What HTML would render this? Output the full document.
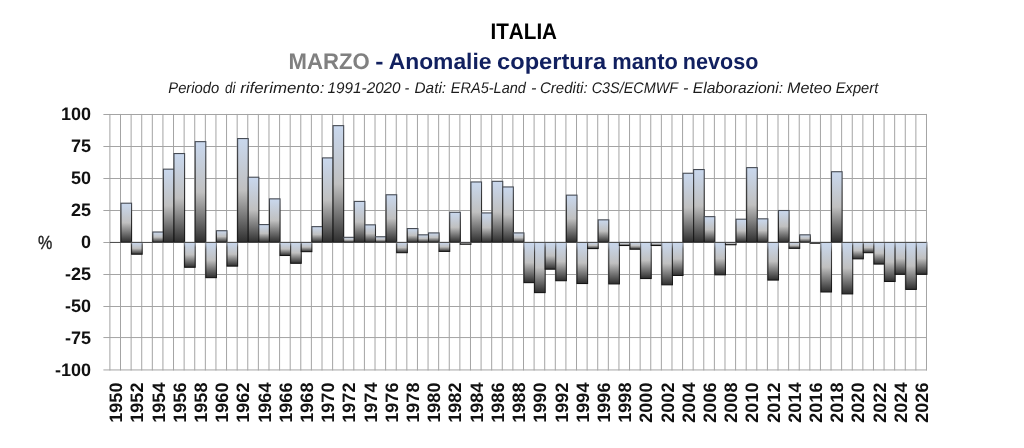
<!DOCTYPE html>
<html><head><meta charset="utf-8"><title>ITALIA - MARZO - Anomalie copertura manto nevoso</title>
<style>
html,body{margin:0;padding:0;background:#fff;}
body{width:1024px;height:448px;overflow:hidden;font-family:"Liberation Sans",sans-serif;}
svg{display:block;will-change:transform;}
text{font-family:"Liberation Sans",sans-serif;font-kerning:none;text-rendering:geometricPrecision;}
</style></head><body>
<svg width="1024" height="448" viewBox="0 0 1024 448">
<defs>
<linearGradient id="g" x1="0" y1="0" x2="0" y2="1">
<stop offset="0" stop-color="#c9d8ee"/><stop offset="0.5" stop-color="#c0c0c0"/><stop offset="1" stop-color="#2e2e2e"/>
</linearGradient>
<linearGradient id="sp" x1="0" y1="0" x2="0" y2="1">
<stop offset="0" stop-color="#464b54"/><stop offset="0.3" stop-color="#333"/><stop offset="1" stop-color="#141414"/>
</linearGradient>
<linearGradient id="sn" x1="0" y1="0" x2="0" y2="1">
<stop offset="0" stop-color="#949ba8"/><stop offset="0.2" stop-color="#444"/><stop offset="1" stop-color="#141414"/>
</linearGradient>
</defs>
<rect width="1024" height="448" fill="#fff"/>

<g stroke="#a4a4a4" stroke-width="1" fill="none">
<line x1="103.4" y1="114.50" x2="926.99" y2="114.50"/>
<line x1="103.4" y1="146.50" x2="926.99" y2="146.50"/>
<line x1="103.4" y1="178.50" x2="926.99" y2="178.50"/>
<line x1="103.4" y1="210.50" x2="926.99" y2="210.50"/>
<line x1="103.4" y1="242.50" x2="926.99" y2="242.50"/>
<line x1="103.4" y1="274.50" x2="926.99" y2="274.50"/>
<line x1="103.4" y1="306.50" x2="926.99" y2="306.50"/>
<line x1="103.4" y1="337.55" x2="926.99" y2="337.55"/>
<line x1="103.4" y1="369.95" x2="926.99" y2="369.95"/>
<line x1="109.90" y1="113.95" x2="109.90" y2="370.45"/>
<line x1="120.51" y1="113.95" x2="120.51" y2="370.45"/>
<line x1="131.11" y1="113.95" x2="131.11" y2="370.45"/>
<line x1="141.72" y1="113.95" x2="141.72" y2="370.45"/>
<line x1="152.32" y1="113.95" x2="152.32" y2="370.45"/>
<line x1="162.93" y1="113.95" x2="162.93" y2="370.45"/>
<line x1="173.53" y1="113.95" x2="173.53" y2="370.45"/>
<line x1="184.13" y1="113.95" x2="184.13" y2="370.45"/>
<line x1="194.74" y1="113.95" x2="194.74" y2="370.45"/>
<line x1="205.35" y1="113.95" x2="205.35" y2="370.45"/>
<line x1="215.95" y1="113.95" x2="215.95" y2="370.45"/>
<line x1="226.56" y1="113.95" x2="226.56" y2="370.45"/>
<line x1="237.16" y1="113.95" x2="237.16" y2="370.45"/>
<line x1="247.77" y1="113.95" x2="247.77" y2="370.45"/>
<line x1="258.37" y1="113.95" x2="258.37" y2="370.45"/>
<line x1="268.98" y1="113.95" x2="268.98" y2="370.45"/>
<line x1="279.58" y1="113.95" x2="279.58" y2="370.45"/>
<line x1="290.19" y1="113.95" x2="290.19" y2="370.45"/>
<line x1="300.79" y1="113.95" x2="300.79" y2="370.45"/>
<line x1="311.39" y1="113.95" x2="311.39" y2="370.45"/>
<line x1="322.00" y1="113.95" x2="322.00" y2="370.45"/>
<line x1="332.61" y1="113.95" x2="332.61" y2="370.45"/>
<line x1="343.21" y1="113.95" x2="343.21" y2="370.45"/>
<line x1="353.82" y1="113.95" x2="353.82" y2="370.45"/>
<line x1="364.42" y1="113.95" x2="364.42" y2="370.45"/>
<line x1="375.02" y1="113.95" x2="375.02" y2="370.45"/>
<line x1="385.63" y1="113.95" x2="385.63" y2="370.45"/>
<line x1="396.24" y1="113.95" x2="396.24" y2="370.45"/>
<line x1="406.84" y1="113.95" x2="406.84" y2="370.45"/>
<line x1="417.45" y1="113.95" x2="417.45" y2="370.45"/>
<line x1="428.05" y1="113.95" x2="428.05" y2="370.45"/>
<line x1="438.65" y1="113.95" x2="438.65" y2="370.45"/>
<line x1="449.26" y1="113.95" x2="449.26" y2="370.45"/>
<line x1="459.87" y1="113.95" x2="459.87" y2="370.45"/>
<line x1="470.47" y1="113.95" x2="470.47" y2="370.45"/>
<line x1="481.08" y1="113.95" x2="481.08" y2="370.45"/>
<line x1="491.68" y1="113.95" x2="491.68" y2="370.45"/>
<line x1="502.28" y1="113.95" x2="502.28" y2="370.45"/>
<line x1="512.89" y1="113.95" x2="512.89" y2="370.45"/>
<line x1="523.50" y1="113.95" x2="523.50" y2="370.45"/>
<line x1="534.10" y1="113.95" x2="534.10" y2="370.45"/>
<line x1="544.71" y1="113.95" x2="544.71" y2="370.45"/>
<line x1="555.31" y1="113.95" x2="555.31" y2="370.45"/>
<line x1="565.92" y1="113.95" x2="565.92" y2="370.45"/>
<line x1="576.52" y1="113.95" x2="576.52" y2="370.45"/>
<line x1="587.12" y1="113.95" x2="587.12" y2="370.45"/>
<line x1="597.73" y1="113.95" x2="597.73" y2="370.45"/>
<line x1="608.34" y1="113.95" x2="608.34" y2="370.45"/>
<line x1="618.94" y1="113.95" x2="618.94" y2="370.45"/>
<line x1="629.54" y1="113.95" x2="629.54" y2="370.45"/>
<line x1="640.15" y1="113.95" x2="640.15" y2="370.45"/>
<line x1="650.75" y1="113.95" x2="650.75" y2="370.45"/>
<line x1="661.36" y1="113.95" x2="661.36" y2="370.45"/>
<line x1="671.97" y1="113.95" x2="671.97" y2="370.45"/>
<line x1="682.57" y1="113.95" x2="682.57" y2="370.45"/>
<line x1="693.17" y1="113.95" x2="693.17" y2="370.45"/>
<line x1="703.78" y1="113.95" x2="703.78" y2="370.45"/>
<line x1="714.38" y1="113.95" x2="714.38" y2="370.45"/>
<line x1="724.99" y1="113.95" x2="724.99" y2="370.45"/>
<line x1="735.60" y1="113.95" x2="735.60" y2="370.45"/>
<line x1="746.20" y1="113.95" x2="746.20" y2="370.45"/>
<line x1="756.80" y1="113.95" x2="756.80" y2="370.45"/>
<line x1="767.41" y1="113.95" x2="767.41" y2="370.45"/>
<line x1="778.01" y1="113.95" x2="778.01" y2="370.45"/>
<line x1="788.62" y1="113.95" x2="788.62" y2="370.45"/>
<line x1="799.23" y1="113.95" x2="799.23" y2="370.45"/>
<line x1="809.83" y1="113.95" x2="809.83" y2="370.45"/>
<line x1="820.44" y1="113.95" x2="820.44" y2="370.45"/>
<line x1="831.04" y1="113.95" x2="831.04" y2="370.45"/>
<line x1="841.64" y1="113.95" x2="841.64" y2="370.45"/>
<line x1="852.25" y1="113.95" x2="852.25" y2="370.45"/>
<line x1="862.86" y1="113.95" x2="862.86" y2="370.45"/>
<line x1="873.46" y1="113.95" x2="873.46" y2="370.45"/>
<line x1="884.07" y1="113.95" x2="884.07" y2="370.45"/>
<line x1="894.67" y1="113.95" x2="894.67" y2="370.45"/>
<line x1="905.27" y1="113.95" x2="905.27" y2="370.45"/>
<line x1="915.88" y1="113.95" x2="915.88" y2="370.45"/>
<line x1="926.49" y1="113.95" x2="926.49" y2="370.45"/>
</g>
<g fill="url(#g)" stroke-width="1.1">
<rect x="120.96" y="203.20" width="10.61" height="39.10" stroke="url(#sp)"/>
<rect x="131.56" y="242.40" width="10.61" height="11.80" stroke="url(#sn)"/>
<rect x="152.77" y="232.00" width="10.61" height="10.30" stroke="url(#sp)"/>
<rect x="163.38" y="169.16" width="10.61" height="73.14" stroke="url(#sp)"/>
<rect x="173.98" y="153.54" width="10.61" height="88.76" stroke="url(#sp)"/>
<rect x="184.58" y="242.40" width="10.61" height="24.86" stroke="url(#sn)"/>
<rect x="195.19" y="141.64" width="10.61" height="100.66" stroke="url(#sp)"/>
<rect x="205.80" y="242.40" width="10.61" height="35.23" stroke="url(#sn)"/>
<rect x="216.40" y="230.72" width="10.61" height="11.58" stroke="url(#sp)"/>
<rect x="227.00" y="242.40" width="10.61" height="23.71" stroke="url(#sn)"/>
<rect x="237.61" y="138.56" width="10.61" height="103.74" stroke="url(#sp)"/>
<rect x="248.22" y="177.22" width="10.61" height="65.08" stroke="url(#sp)"/>
<rect x="258.82" y="224.58" width="10.61" height="17.72" stroke="url(#sp)"/>
<rect x="269.43" y="198.85" width="10.61" height="43.45" stroke="url(#sp)"/>
<rect x="280.03" y="242.40" width="10.61" height="13.08" stroke="url(#sn)"/>
<rect x="290.63" y="242.40" width="10.61" height="20.89" stroke="url(#sn)"/>
<rect x="301.24" y="242.40" width="10.61" height="9.24" stroke="url(#sn)"/>
<rect x="311.84" y="226.63" width="10.61" height="15.67" stroke="url(#sp)"/>
<rect x="322.45" y="157.89" width="10.61" height="84.41" stroke="url(#sp)"/>
<rect x="333.06" y="125.64" width="10.61" height="116.66" stroke="url(#sp)"/>
<rect x="343.66" y="237.32" width="10.61" height="4.98" stroke="url(#sp)"/>
<rect x="354.27" y="201.41" width="10.61" height="40.89" stroke="url(#sp)"/>
<rect x="364.87" y="224.84" width="10.61" height="17.46" stroke="url(#sp)"/>
<rect x="375.47" y="236.74" width="10.61" height="5.56" stroke="url(#sp)"/>
<rect x="386.08" y="194.76" width="10.61" height="47.54" stroke="url(#sp)"/>
<rect x="396.69" y="242.40" width="10.61" height="10.27" stroke="url(#sn)"/>
<rect x="407.29" y="228.55" width="10.61" height="13.75" stroke="url(#sp)"/>
<rect x="417.90" y="234.82" width="10.61" height="7.48" stroke="url(#sp)"/>
<rect x="428.50" y="232.90" width="10.61" height="9.40" stroke="url(#sp)"/>
<rect x="439.10" y="242.40" width="10.61" height="8.99" stroke="url(#sn)"/>
<rect x="449.71" y="212.29" width="10.61" height="30.01" stroke="url(#sp)"/>
<rect x="460.31" y="242.40" width="10.61" height="1.82" stroke="url(#sn)"/>
<rect x="470.92" y="181.96" width="10.61" height="60.34" stroke="url(#sp)"/>
<rect x="481.53" y="212.93" width="10.61" height="29.37" stroke="url(#sp)"/>
<rect x="492.13" y="181.32" width="10.61" height="60.98" stroke="url(#sp)"/>
<rect x="502.73" y="186.95" width="10.61" height="55.35" stroke="url(#sp)"/>
<rect x="513.34" y="232.90" width="10.61" height="9.40" stroke="url(#sp)"/>
<rect x="523.95" y="242.40" width="10.61" height="40.22" stroke="url(#sn)"/>
<rect x="534.55" y="242.40" width="10.61" height="50.20" stroke="url(#sn)"/>
<rect x="545.16" y="242.40" width="10.61" height="26.78" stroke="url(#sn)"/>
<rect x="555.76" y="242.40" width="10.61" height="38.30" stroke="url(#sn)"/>
<rect x="566.37" y="195.14" width="10.61" height="47.16" stroke="url(#sp)"/>
<rect x="576.97" y="242.40" width="10.61" height="41.12" stroke="url(#sn)"/>
<rect x="587.58" y="242.40" width="10.61" height="6.17" stroke="url(#sn)"/>
<rect x="598.18" y="219.84" width="10.61" height="22.46" stroke="url(#sp)"/>
<rect x="608.79" y="242.40" width="10.61" height="41.50" stroke="url(#sn)"/>
<rect x="619.39" y="242.40" width="10.61" height="3.10" stroke="url(#sn)"/>
<rect x="630.00" y="242.40" width="10.61" height="6.81" stroke="url(#sn)"/>
<rect x="640.60" y="242.40" width="10.61" height="36.12" stroke="url(#sn)"/>
<rect x="651.21" y="242.40" width="10.61" height="3.10" stroke="url(#sn)"/>
<rect x="661.81" y="242.40" width="10.61" height="42.40" stroke="url(#sn)"/>
<rect x="672.42" y="242.40" width="10.61" height="33.05" stroke="url(#sn)"/>
<rect x="683.02" y="173.25" width="10.61" height="69.05" stroke="url(#sp)"/>
<rect x="693.62" y="169.54" width="10.61" height="72.76" stroke="url(#sp)"/>
<rect x="704.23" y="216.64" width="10.61" height="25.66" stroke="url(#sp)"/>
<rect x="714.84" y="242.40" width="10.61" height="32.41" stroke="url(#sn)"/>
<rect x="725.44" y="242.40" width="10.61" height="2.33" stroke="url(#sn)"/>
<rect x="736.05" y="219.20" width="10.61" height="23.10" stroke="url(#sp)"/>
<rect x="746.65" y="167.62" width="10.61" height="74.68" stroke="url(#sp)"/>
<rect x="757.25" y="218.82" width="10.61" height="23.48" stroke="url(#sp)"/>
<rect x="767.86" y="242.40" width="10.61" height="37.66" stroke="url(#sn)"/>
<rect x="778.47" y="210.50" width="10.61" height="31.80" stroke="url(#sp)"/>
<rect x="789.07" y="242.40" width="10.61" height="5.92" stroke="url(#sn)"/>
<rect x="799.68" y="234.82" width="10.61" height="7.48" stroke="url(#sp)"/>
<rect x="810.28" y="242.40" width="10.61" height="0.80" stroke="url(#sn)"/>
<rect x="820.89" y="242.40" width="10.61" height="49.56" stroke="url(#sn)"/>
<rect x="831.49" y="171.72" width="10.61" height="70.58" stroke="url(#sp)"/>
<rect x="842.10" y="242.40" width="10.61" height="51.48" stroke="url(#sn)"/>
<rect x="852.70" y="242.40" width="10.61" height="16.41" stroke="url(#sn)"/>
<rect x="863.31" y="242.40" width="10.61" height="10.27" stroke="url(#sn)"/>
<rect x="873.91" y="242.40" width="10.61" height="21.66" stroke="url(#sn)"/>
<rect x="884.52" y="242.40" width="10.61" height="39.07" stroke="url(#sn)"/>
<rect x="895.12" y="242.40" width="10.61" height="31.90" stroke="url(#sn)"/>
<rect x="905.73" y="242.40" width="10.61" height="47.00" stroke="url(#sn)"/>
<rect x="916.33" y="242.40" width="10.61" height="31.90" stroke="url(#sn)"/>
</g>
<line x1="109.90" y1="242.43" x2="926.49" y2="242.43" stroke="#4a4a4a" stroke-width="1"/>
<g font-weight="bold" font-size="18" fill="#111" text-anchor="end">
<text x="91.1" y="120.40">100</text>
<text x="91.1" y="152.34">75</text>
<text x="91.1" y="184.27">50</text>
<text x="91.1" y="216.21">25</text>
<text x="91.1" y="248.15">0</text>
<text x="91.1" y="280.09">-25</text>
<text x="91.1" y="312.02">-50</text>
<text x="91.1" y="343.96">-75</text>
<text x="91.1" y="375.90">-100</text>
</g>
<text x="37.9" y="249" font-size="19" fill="#1c1c1c" stroke="#1c1c1c" stroke-width="0.35" textLength="14.3" lengthAdjust="spacingAndGlyphs">%</text>
<g font-weight="bold" font-size="18" fill="#111" text-anchor="end">
<text transform="translate(122.10,382.6) rotate(-90)" x="0" y="0">1950</text>
<text transform="translate(143.31,382.6) rotate(-90)" x="0" y="0">1952</text>
<text transform="translate(164.52,382.6) rotate(-90)" x="0" y="0">1954</text>
<text transform="translate(185.73,382.6) rotate(-90)" x="0" y="0">1956</text>
<text transform="translate(206.94,382.6) rotate(-90)" x="0" y="0">1958</text>
<text transform="translate(228.15,382.6) rotate(-90)" x="0" y="0">1960</text>
<text transform="translate(249.36,382.6) rotate(-90)" x="0" y="0">1962</text>
<text transform="translate(270.57,382.6) rotate(-90)" x="0" y="0">1964</text>
<text transform="translate(291.78,382.6) rotate(-90)" x="0" y="0">1966</text>
<text transform="translate(312.99,382.6) rotate(-90)" x="0" y="0">1968</text>
<text transform="translate(334.20,382.6) rotate(-90)" x="0" y="0">1970</text>
<text transform="translate(355.41,382.6) rotate(-90)" x="0" y="0">1972</text>
<text transform="translate(376.62,382.6) rotate(-90)" x="0" y="0">1974</text>
<text transform="translate(397.83,382.6) rotate(-90)" x="0" y="0">1976</text>
<text transform="translate(419.04,382.6) rotate(-90)" x="0" y="0">1978</text>
<text transform="translate(440.25,382.6) rotate(-90)" x="0" y="0">1980</text>
<text transform="translate(461.46,382.6) rotate(-90)" x="0" y="0">1982</text>
<text transform="translate(482.67,382.6) rotate(-90)" x="0" y="0">1984</text>
<text transform="translate(503.88,382.6) rotate(-90)" x="0" y="0">1986</text>
<text transform="translate(525.09,382.6) rotate(-90)" x="0" y="0">1988</text>
<text transform="translate(546.30,382.6) rotate(-90)" x="0" y="0">1990</text>
<text transform="translate(567.51,382.6) rotate(-90)" x="0" y="0">1992</text>
<text transform="translate(588.72,382.6) rotate(-90)" x="0" y="0">1994</text>
<text transform="translate(609.93,382.6) rotate(-90)" x="0" y="0">1996</text>
<text transform="translate(631.14,382.6) rotate(-90)" x="0" y="0">1998</text>
<text transform="translate(652.35,382.6) rotate(-90)" x="0" y="0">2000</text>
<text transform="translate(673.56,382.6) rotate(-90)" x="0" y="0">2002</text>
<text transform="translate(694.77,382.6) rotate(-90)" x="0" y="0">2004</text>
<text transform="translate(715.98,382.6) rotate(-90)" x="0" y="0">2006</text>
<text transform="translate(737.19,382.6) rotate(-90)" x="0" y="0">2008</text>
<text transform="translate(758.40,382.6) rotate(-90)" x="0" y="0">2010</text>
<text transform="translate(779.61,382.6) rotate(-90)" x="0" y="0">2012</text>
<text transform="translate(800.82,382.6) rotate(-90)" x="0" y="0">2014</text>
<text transform="translate(822.03,382.6) rotate(-90)" x="0" y="0">2016</text>
<text transform="translate(843.24,382.6) rotate(-90)" x="0" y="0">2018</text>
<text transform="translate(864.45,382.6) rotate(-90)" x="0" y="0">2020</text>
<text transform="translate(885.66,382.6) rotate(-90)" x="0" y="0">2022</text>
<text transform="translate(906.87,382.6) rotate(-90)" x="0" y="0">2024</text>
<text transform="translate(928.08,382.6) rotate(-90)" x="0" y="0">2026</text>
</g>
<text x="490.52" y="39.00" font-size="22.50" fill="#000" textLength="66.53" lengthAdjust="spacingAndGlyphs" font-weight="bold">ITALIA</text>
<text x="288.52" y="69.00" font-size="22.50" fill="#808080" textLength="81.16" lengthAdjust="spacingAndGlyphs" font-weight="bold">MARZO</text>
<text x="375.29" y="69.00" font-size="22.50" fill="#11205f" textLength="8.20" lengthAdjust="spacingAndGlyphs" font-weight="bold">-</text>
<text x="388.68" y="69.00" font-size="22.50" fill="#11205f" textLength="102.85" lengthAdjust="spacingAndGlyphs" font-weight="bold">Anomalie</text>
<text x="497.08" y="69.00" font-size="22.50" fill="#11205f" textLength="109.02" lengthAdjust="spacingAndGlyphs" font-weight="bold">copertura</text>
<text x="612.31" y="69.00" font-size="22.50" fill="#11205f" textLength="65.54" lengthAdjust="spacingAndGlyphs" font-weight="bold">manto</text>
<text x="682.83" y="69.00" font-size="22.50" fill="#11205f" textLength="75.51" lengthAdjust="spacingAndGlyphs" font-weight="bold">nevoso</text>
<text x="168.30" y="93.00" font-size="15.40" fill="#1c1c1c" textLength="50.92" lengthAdjust="spacingAndGlyphs" font-style="italic">Periodo</text>
<text x="225.05" y="93.00" font-size="15.40" fill="#1c1c1c" textLength="10.40" lengthAdjust="spacingAndGlyphs" font-style="italic">di</text>
<text x="240.22" y="93.00" font-size="15.40" fill="#1c1c1c" textLength="84.20" lengthAdjust="spacingAndGlyphs" font-style="italic">riferimento:</text>
<text x="327.60" y="93.00" font-size="15.40" fill="#1c1c1c" textLength="73.02" lengthAdjust="spacingAndGlyphs" font-style="italic">1991-2020</text>
<text x="404.57" y="93.00" font-size="15.40" fill="#1c1c1c" textLength="4.75" lengthAdjust="spacingAndGlyphs" font-style="italic">-</text>
<text x="414.53" y="93.00" font-size="15.40" fill="#1c1c1c" textLength="31.59" lengthAdjust="spacingAndGlyphs" font-style="italic">Dati:</text>
<text x="450.80" y="93.00" font-size="15.40" fill="#1c1c1c" textLength="75.06" lengthAdjust="spacingAndGlyphs" font-style="italic">ERA5-Land</text>
<text x="530.91" y="93.00" font-size="15.40" fill="#1c1c1c" textLength="5.46" lengthAdjust="spacingAndGlyphs" font-style="italic">-</text>
<text x="539.92" y="93.00" font-size="15.40" fill="#1c1c1c" textLength="47.68" lengthAdjust="spacingAndGlyphs" font-style="italic">Crediti:</text>
<text x="591.71" y="93.00" font-size="15.40" fill="#1c1c1c" textLength="86.37" lengthAdjust="spacingAndGlyphs" font-style="italic">C3S/ECMWF</text>
<text x="682.91" y="93.00" font-size="15.40" fill="#1c1c1c" textLength="5.46" lengthAdjust="spacingAndGlyphs" font-style="italic">-</text>
<text x="692.77" y="93.00" font-size="15.40" fill="#1c1c1c" textLength="90.36" lengthAdjust="spacingAndGlyphs" font-style="italic">Elaborazioni:</text>
<text x="787.00" y="93.00" font-size="15.40" fill="#1c1c1c" textLength="44.76" lengthAdjust="spacingAndGlyphs" font-style="italic">Meteo</text>
<text x="835.80" y="93.00" font-size="15.40" fill="#1c1c1c" textLength="42.44" lengthAdjust="spacingAndGlyphs" font-style="italic">Expert</text>
</svg></body></html>
